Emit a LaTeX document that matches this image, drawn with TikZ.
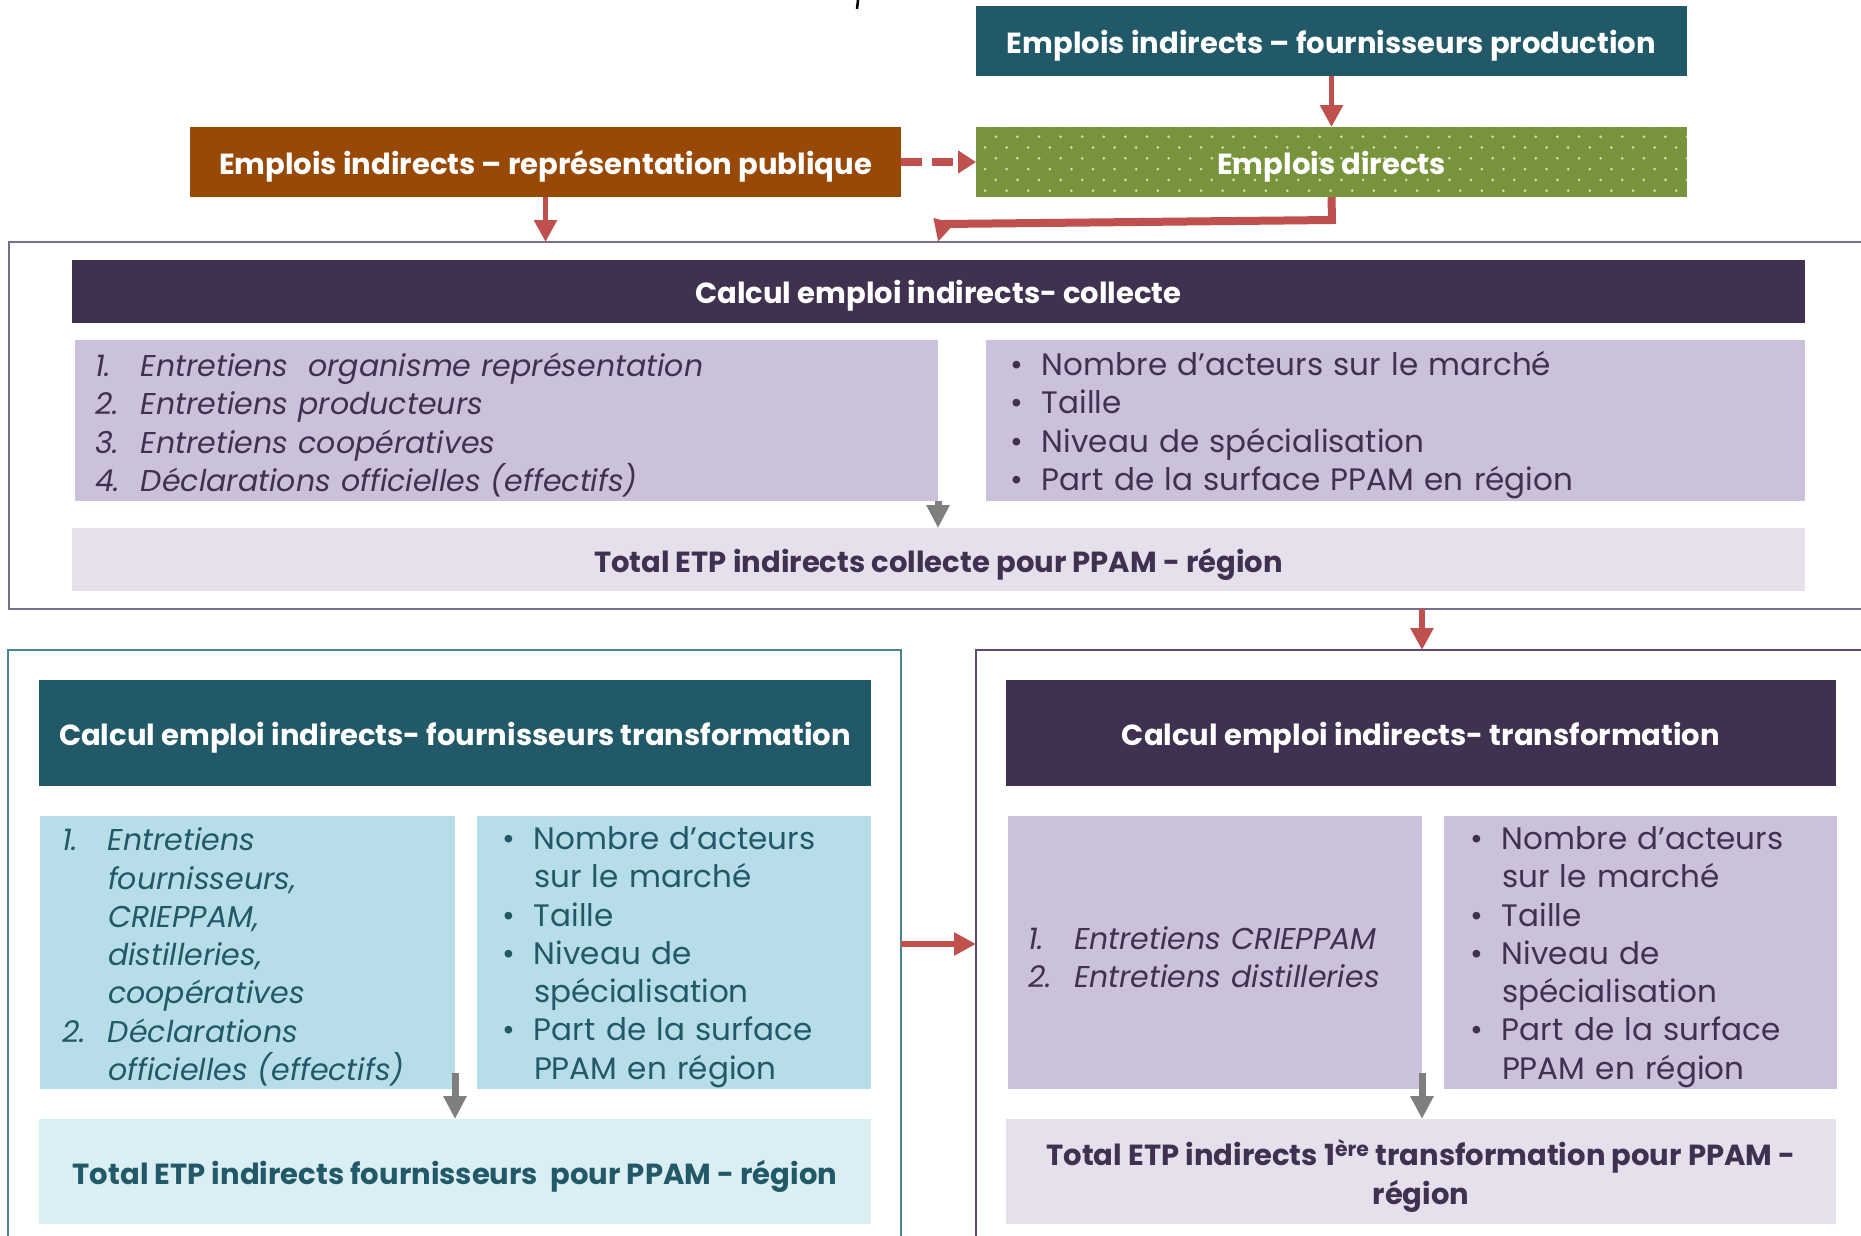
\documentclass[tikz,border=0pt]{standalone}
\usepackage{fontspec}
\setmainfont{Poppins}
\usetikzlibrary{arrows.meta}
\definecolor{cTeal}{HTML}{215968}
\definecolor{cOrange}{HTML}{984807}
\definecolor{cGreen}{HTML}{77933C}
\definecolor{cDot}{HTML}{CFDDB0}
\definecolor{cPurple}{HTML}{403151}
\definecolor{cLilac}{HTML}{CCC1DA}
\definecolor{cLilacL}{HTML}{E5E0EC}
\definecolor{cBlue}{HTML}{B7DEE8}
\definecolor{cBlueL}{HTML}{DBEEF4}
\definecolor{cRed}{HTML}{C0504D}
\definecolor{cGray}{HTML}{7F7F7F}
\definecolor{cBorderA}{HTML}{786E8E}
\definecolor{cBorderB}{HTML}{4A8796}
\definecolor{cBorderC}{HTML}{5F497A}
\newlength\wtmp
\newcommand\itm[1]{\makebox[46pt][l]{#1}}
\newcommand\bul{\makebox[32pt][l]{•}}
\newcommand\ind{\hspace*{46pt}}
\newcommand\indb{\hspace*{32pt}}
\newcommand\rf{\fontsize{\rsz pt}{38.3pt}\selectfont}
\newcommand\itf{\fontsize{\isz pt}{38.3pt}\selectfont\itshape}
\newcommand\bfnt{\fontsize{\bsz pt}{39pt}\selectfont\bfseries}
\begin{document}
\settowidth\wtmp{\fontsize{10pt}{12pt}\selectfont Nombre d’acteurs sur le marché}%
\pgfmathsetmacro\rsz{10*501/\wtmp}%
\pgfmathsetmacro\isz{0.97*\rsz}%
\settowidth\wtmp{\fontsize{10pt}{12pt}\selectfont\bfseries Calcul emploi indirects- collecte}%
\pgfmathsetmacro\bsz{0.965*10*504/\wtmp}%
\begin{tikzpicture}[x=1pt,y=-1pt,
  every node/.style={inner sep=0pt, outer sep=0pt},
  blk/.style={rectangle, fill=#1},
  frame/.style={rectangle, draw=#1, line width=2pt, fill=white},
  htxt/.style={text=white, font=\bfnt, align=center, yshift=-4.5pt},
  btxt/.style={text=#1, font=\bfnt, align=center, yshift=-4.5pt},
  ltxt/.style={text=#1, align=left, yshift=-4.5pt},
  redarr/.style={draw=cRed, line width=5.5pt, -{Triangle[width=22pt,length=22pt]}},
  grayarr/.style={draw=cGray, line width=7pt, -{Triangle[width=22pt,length=23pt]}}
]
\useasboundingbox (0,0) rectangle (1861,1235);
\fill[white] (0,0) rectangle (1861,1235);

% tiny mark at top
\draw[line width=2.5pt] (858,0) -- (857,9);

% top row
\node[blk=cTeal, minimum width=711pt, minimum height=70pt] (topbox) at (1331.5,41) {};
\node[htxt] (t-topbox) at (topbox.center) {Emplois indirects – fournisseurs production};
\node[blk=cOrange, minimum width=711pt, minimum height=70pt] (orange) at (545.5,162) {};
\node[htxt] (t-orange) at (orange.center) {Emplois indirects – représentation publique};
\node[blk=cGreen, minimum width=711pt, minimum height=70pt] (green) at (1331.5,162) {};
\begin{scope}
\clip (green.south west) rectangle (green.north east);
\foreach \r in {0,...,7} {
  \foreach \c in {0,...,33} {
    \fill[cDot] ({985 + 21.6*\c + 10.8*mod(\r,2)}, {125.9 + 10.8*\r}) circle [radius=1.5pt];
  }
}
\end{scope}
\node[htxt] (t-green) at (green.center) {Emplois directs};

% block 1
\node[frame=cBorderA, minimum width=1866pt, minimum height=367pt] (out1) at (942,425.5) {};
\node[blk=cPurple, minimum width=1733pt, minimum height=63pt] (hdr1) at (938.5,291.5) {};
\node[htxt] (t-hdr1) at (hdr1.center) {Calcul emploi indirects- collecte};
\node[blk=cLilac, minimum width=863pt, minimum height=161pt] (list1L) at (506.5,420.5) {};
\node[ltxt=cPurple, text width=823pt, font=\itf] (t-list1L) at (list1L.center)
 {\itm{1.}Entretiens\ \ organisme représentation\\
  \itm{2.}Entretiens producteurs\\
  \itm{3.}Entretiens coopératives\\
  \itm{4.}Déclarations officielles (effectifs)};
\node[blk=cLilac, minimum width=819pt, minimum height=161pt] (list1R) at (1395.5,420.5) {};
\node[ltxt=cPurple, text width=771pt, font=\rf] (t-list1R) at (list1R.center)
 {\bul Nombre d’acteurs sur le marché\\
  \bul Taille\\
  \bul Niveau de spécialisation\\
  \bul Part de la surface PPAM en région};
\node[blk=cLilacL, minimum width=1733pt, minimum height=63pt] (total1) at (938.5,559.5) {};
\node[btxt=cPurple] (t-total1) at (total1.center) {Total ETP indirects collecte pour PPAM - région};

% block 2
\node[frame=cBorderB, line width=1.5pt, minimum width=893pt, minimum height=588pt] (out2) at (454.5,944) {};
\node[blk=cTeal, minimum width=832pt, minimum height=106pt] (hdr2) at (455,733) {};
\node[htxt] (t-hdr2) at (hdr2.center) {Calcul emploi indirects- fournisseurs transformation};
\node[blk=cBlue, minimum width=415pt, minimum height=273pt] (list2L) at (247.5,952.5) {};
\node[ltxt=cTeal, text width=371pt, font=\itf] (t-list2L) at (list2L.center)
 {\itm{1.}Entretiens\\
  \ind fournisseurs,\\
  \ind CRIEPPAM,\\
  \ind distilleries,\\
  \ind coopératives\\
  \itm{2.}Déclarations\\
  \ind officielles (effectifs)};
\node[blk=cBlue, minimum width=394pt, minimum height=273pt] (list2R) at (674,952.5) {};
\node[ltxt=cTeal, text width=344pt, font=\rf] (t-list2R) at (list2R.center)
 {\bul Nombre d’acteurs\\
  \indb sur le marché\\
  \bul Taille\\
  \bul Niveau de\\
  \indb spécialisation\\
  \bul Part de la surface\\
  \indb PPAM en région};
\node[blk=cBlueL, minimum width=832pt, minimum height=105pt] (total2) at (455,1171.5) {};
\node[btxt=cTeal] (t-total2) at (total2.center) {Total ETP indirects fournisseurs\ \ pour PPAM - région};

% block 3
\node[frame=cBorderC, line width=1.5pt, minimum width=899pt, minimum height=588pt] (out3) at (1425.5,944) {};
\node[blk=cPurple, minimum width=830pt, minimum height=106pt] (hdr3) at (1421,733) {};
\node[htxt] (t-hdr3) at (hdr3.center) {Calcul emploi indirects- transformation};
\node[blk=cLilac, minimum width=414pt, minimum height=273pt] (list3L) at (1215,952.5) {};
\node[ltxt=cPurple, text width=374pt, font=\itf] (t-list3L) at (list3L.center)
 {\itm{1.}Entretiens CRIEPPAM\\
  \itm{2.}Entretiens distilleries};
\node[blk=cLilac, minimum width=393pt, minimum height=273pt] (list3R) at (1640.5,952.5) {};
\node[ltxt=cPurple, text width=341pt, font=\rf] (t-list3R) at (list3R.center)
 {\bul Nombre d’acteurs\\
  \indb sur le marché\\
  \bul Taille\\
  \bul Niveau de\\
  \indb spécialisation\\
  \bul Part de la surface\\
  \indb PPAM en région};
\node[blk=cLilacL, minimum width=830pt, minimum height=105pt] (total3) at (1421,1171.5) {};
\node[btxt=cPurple] (t-total3) at (total3.center) {Total ETP indirects 1\textsuperscript{ère} transformation pour PPAM -\\région};

% connectors
\draw[redarr] (topbox.south) -- (green.north);
\draw[draw=cRed, line width=8pt, dash pattern=on 21pt off 10pt, -{Triangle[width=22pt,length=18pt]}] (orange.east) -- (green.west);
\draw[redarr] (orange.south) -- (orange.south |- out1.north);
\draw[draw=cRed, line width=8pt, -{Triangle[width=20pt,length=22pt]}] (green.south) -- (1332,220) -- (943,224) -- (list1L.east |- out1.north);
\draw[redarr] (list3L.east |- out1.south) -- (list3L.east |- out3.north);
\draw[redarr] (out2.east) -- (out3.west);
\draw[grayarr] (list1L.south east) -- (list1L.south east |- total1.north);
\draw[grayarr] ([yshift=16pt]list2L.south east) -- (list2L.south east |- total2.north);
\draw[grayarr] ([yshift=16pt]list3L.south east) -- (list3L.south east |- total3.north);
\end{tikzpicture}
\end{document}
